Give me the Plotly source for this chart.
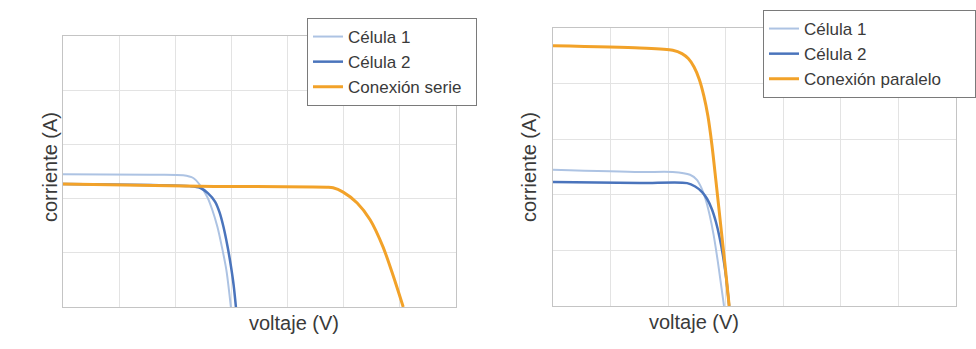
import plotly.graph_objects as go

# ---- Left panel (serie) ----
serie_c1_v = [0, 1.55, 2.14, 2.32, 2.44, 2.57, 2.66, 2.75, 2.83, 2.91, 2.99]
serie_c1_i = [2.45, 2.44, 2.43, 2.38, 2.25, 2.03, 1.79, 1.48, 1.11, 0.68, 0]

serie_c2_v = [0, 1.55, 2.26, 2.44, 2.58, 2.71, 2.79, 2.86, 2.93, 2.99, 3.04, 3.08]
serie_c2_i = [2.27, 2.25, 2.23, 2.20, 2.10, 1.94, 1.74, 1.47, 1.12, 0.76, 0.40, 0]

serie_v = [0, 2.44, 4.70, 4.81, 4.99, 5.24, 5.47, 5.70, 5.88, 6.06]
serie_i = [2.27, 2.23, 2.21, 2.20, 2.12, 1.92, 1.61, 1.11, 0.58, 0]

# ---- Right panel (paralelo) ----
par_c1_v = [0, 1.51, 2.08, 2.38, 2.50, 2.58, 2.65, 2.72, 2.79, 2.86, 2.91, 2.97]
par_c1_i = [2.45, 2.41, 2.41, 2.36, 2.27, 2.12, 1.92, 1.64, 1.28, 0.82, 0.45, 0]

par_c2_v = [0, 1.51, 2.33, 2.47, 2.59, 2.68, 2.76, 2.83, 2.89, 2.95, 3.01, 3.06]
par_c2_i = [2.23, 2.21, 2.21, 2.15, 2.05, 1.92, 1.74, 1.51, 1.25, 0.92, 0.49, 0]

par_v = [0, 1.51, 2.08, 2.24, 2.35, 2.45, 2.54, 2.62, 2.69, 2.76, 2.83, 2.91, 2.99, 3.06]
par_i = [4.68, 4.64, 4.60, 4.54, 4.45, 4.30, 4.08, 3.78, 3.42, 2.90, 2.25, 1.48, 0.72, 0]

names = ["Célula 1", "Célula 2", "Conexión serie", "Conexión paralelo"]

C1 = "#adc3e3"
C2 = "#4a74bc"
OR = "#f2a229"
TXT = "#3a3a3a"
FONT = "Liberation Sans, Arial, sans-serif"
PAD = "\u00a0"  # trailing padding so the legend box reaches the original width

fig = go.Figure()

def add(x, y, name, color, width, xa, ya, legend):
    fig.add_trace(go.Scatter(x=x, y=y, name=name, mode="lines",
                             line=dict(color=color, width=width, shape="spline", smoothing=0.8),
                             xaxis=xa, yaxis=ya, legend=legend, hoverinfo="skip"))

add(serie_c1_v, serie_c1_i, names[0], C1, 2, "x", "y", "legend")
add(serie_c2_v, serie_c2_i, names[1], C2, 2.5, "x", "y", "legend")
add(serie_v, serie_i, names[2] + PAD * 2, OR, 3, "x", "y", "legend")

add(par_c1_v, par_c1_i, names[0], C1, 2, "x2", "y2", "legend2")
add(par_c2_v, par_c2_i, names[1], C2, 2.5, "x2", "y2", "legend2")
add(par_v, par_i, names[3] + PAD * 6, OR, 3, "x2", "y2", "legend2")

W, H = 976, 349

def ax(domain, rng, dtick, anchor):
    return dict(domain=domain, range=rng, dtick=dtick, showticklabels=False,
                ticks="", showgrid=True, gridcolor="#e3e3e3", gridwidth=1,
                zeroline=False, showline=True, linecolor="#c4c4c4", linewidth=1,
                mirror=True, anchor=anchor, fixedrange=True)

xax = ax([63 / W, 456 / W], [0, 7], 1, "y")
yax = ax([(H - 307) / H, (H - 36) / H], [0, 5], 1, "x")
x2ax = ax([553 / W, 956 / W], [0, 7], 1, "y2")
y2ax = ax([(H - 306) / H, (H - 28) / H], [0, 5], 1, "x2")

legend_common = dict(bgcolor="white", bordercolor="#7a7a7a", borderwidth=1,
                     font=dict(family=FONT, size=17, color=TXT),
                     xanchor="left", yanchor="top", tracegroupgap=0,
                     itemwidth=30)

fig.update_layout(
    width=W, height=H,
    margin=dict(l=0, r=0, t=0, b=0, autoexpand=False),
    paper_bgcolor="white", plot_bgcolor="white",
    font=dict(family=FONT, color=TXT),
    xaxis=xax, yaxis=yax, xaxis2=x2ax, yaxis2=y2ax,
    legend=dict(x=307 / W, y=1 - 18 / H, **legend_common),
    legend2=dict(x=763 / W, y=1 - 10 / H, **legend_common),
    showlegend=True,
    annotations=[
        dict(text="corriente (A)", x=37 / W, y=1 - 167 / H, xref="paper", yref="paper",
             textangle=-90, showarrow=False, font=dict(family=FONT, size=20, color=TXT)),
        dict(text="voltaje (V)", x=247 / W, y=1 - 336 / H, xref="paper", yref="paper",
             showarrow=False, font=dict(family=FONT, size=20, color=TXT)),
        dict(text="corriente (A)", x=529 / W, y=1 - 167 / H, xref="paper", yref="paper",
             textangle=-90, showarrow=False, font=dict(family=FONT, size=20, color=TXT)),
        dict(text="voltaje (V)", x=741 / W, y=1 - 335 / H, xref="paper", yref="paper",
             showarrow=False, font=dict(family=FONT, size=20, color=TXT)),
    ],
)

fig.write_html("out.html", config={"displayModeBar": False},
               post_script="document.body.style.margin='0';document.body.style.padding='0';document.body.style.overflow='hidden';")
